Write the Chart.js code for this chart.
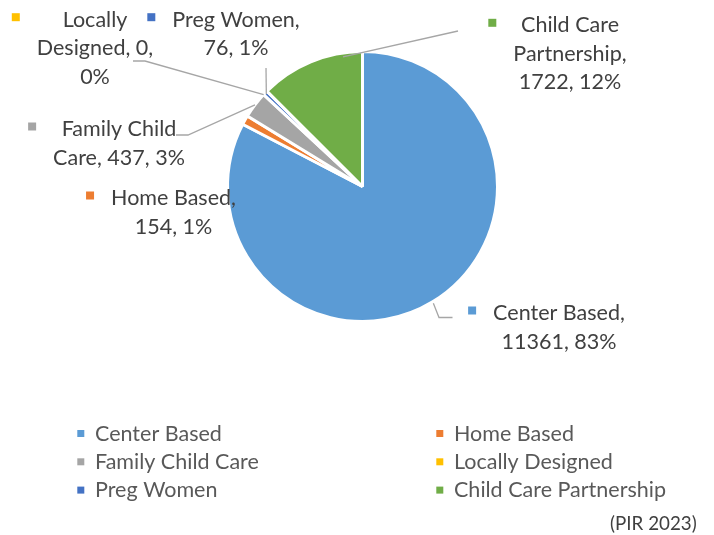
<!DOCTYPE html>
<html><head><meta charset="utf-8">
<script src="https://cdn.jsdelivr.net/npm/chart.js@4.4.1/dist/chart.umd.min.js"></script>
<style>html,body{margin:0;padding:0;background:#fff}canvas{display:block}</style>
</head>
<body>
<canvas id="c" width="714" height="535"></canvas>
<script>
// ---- data ----
const categories = ["Center Based", "Home Based", "Family Child Care", "Locally Designed", "Preg Women", "Child Care Partnership"];
const values = [11361, 154, 437, 0, 76, 1722];
const colors = ["#5B9BD5", "#ED7D31", "#A5A5A5", "#FFC000", "#4472C4", "#70AD47"];
const sourceNote = "(PIR 2023)";

// ---- label layout (positions only) ----
const labelLayout = [
  { cx: 559,   base: 320,  words: [2, 2],    leader: [[452.5, 317.5], [439, 317.5]], frac: 0.5,  dr: 1.5 },
  { cx: 173.5, base: 205,  words: [2, 2],    leader: null },
  { cx: 119,   base: 136,  words: [2, 3],    leader: [[176, 135], [188, 135]], frac: 0.5, dr: 0 },
  { cx: 95,    base: 26.7, words: [1, 2, 1], leader: [[133, 61], [145, 61]], frac: 0.5, dr: 0 },
  { cx: 236,   base: 26.7, words: [2, 2],    leader: [[266, 68]], frac: 0.5, dr: -1.5 },
  { cx: 570,   base: 32.3, words: [2, 1, 2], leader: [[458, 31]], frac: 0.81, dr: -4 }
];

const FONT = "Lato, 'Liberation Sans', sans-serif";
function fitSize(text, targetW) {
  const c = document.createElement('canvas').getContext('2d');
  c.font = "100px " + FONT;
  return 100 * targetW / c.measureText(text).width;
}
const mainSize = fitSize("Center Based", 127);
const noteSize = fitSize("(PIR 2023)", 86.7);

// percentages rounded to sum 100 (largest remainder)
function percents(vals) {
  const tot = vals.reduce((a, b) => a + b, 0);
  const raw = vals.map(v => v / tot * 100);
  const fl = raw.map(Math.floor);
  let rem = 100 - fl.reduce((a, b) => a + b, 0);
  const order = raw.map((r, i) => [r - Math.floor(r), i]).sort((a, b) => b[0] - a[0]);
  for (let k = 0; k < rem; k++) fl[order[k][1]]++;
  return fl;
}
const pcts = percents(values);

const labelsPlugin = {
  id: 'labelsPlugin',
  afterDatasetsDraw(chart) {
    const ctx = chart.ctx;
    const arcs = chart.getDatasetMeta(0).data;
    ctx.save();
    // leader lines
    ctx.strokeStyle = '#A6A6A6';
    ctx.lineWidth = 1.3;
    labelLayout.forEach((L, i) => {
      if (!L.leader) return;
      const p = arcs[i].getProps(['x', 'y', 'startAngle', 'endAngle', 'outerRadius'], true);
      const a = p.startAngle + L.frac * (p.endAngle - p.startAngle);
      const r = p.outerRadius + L.dr;
      ctx.beginPath();
      ctx.moveTo(L.leader[0][0], L.leader[0][1]);
      for (let k = 1; k < L.leader.length; k++) ctx.lineTo(L.leader[k][0], L.leader[k][1]);
      ctx.lineTo(p.x + r * Math.cos(a), p.y + r * Math.sin(a));
      ctx.stroke();
    });
    // label texts
    ctx.font = mainSize.toFixed(2) + "px " + FONT;
    ctx.textBaseline = 'alphabetic';
    ctx.textAlign = 'center';
    labelLayout.forEach((L, i) => {
      const tokens = (categories[i] + ", " + values[i] + ", " + pcts[i] + "%").split(" ");
      const lines = [];
      let t = 0;
      L.words.forEach(n => { lines.push(tokens.slice(t, t + n).join(" ")); t += n; });
      const maxW = Math.max(...lines.map(s => ctx.measureText(s).width));
      ctx.fillStyle = '#404040';
      lines.forEach((s, k) => ctx.fillText(s, L.cx, L.base + k * 28.5));
      const left = L.cx - maxW / 2;
      ctx.fillStyle = colors[i];
      ctx.fillRect(left - 17 - 8, L.base - 9.5 - 4, 8, 8);
    });
    // legend
    ctx.textAlign = 'left';
    categories.forEach((name, i) => {
      const col = i % 2, row = Math.floor(i / 2);
      const tx = col === 0 ? 95 : 454;
      const by = 440.7 + row * 28.3;
      ctx.fillStyle = colors[i];
      ctx.fillRect(tx - 17.7, by - 10.7, 7, 7);
      ctx.fillStyle = '#595959';
      ctx.fillText(name, tx, by);
    });
    // source note
    ctx.font = noteSize.toFixed(2) + "px " + FONT;
    ctx.textAlign = 'right';
    ctx.fillStyle = '#404040';
    ctx.fillText(sourceNote, 696.7, 530);
    ctx.restore();
  }
};

new Chart(document.getElementById('c'), {
  type: 'pie',
  data: {
    labels: categories,
    datasets: [{
      data: values,
      backgroundColor: colors,
      borderColor: '#FFFFFF',
      borderWidth: 3,
      hoverOffset: 0,
      radius: 135
    }]
  },
  options: {
    responsive: false,
    animation: false,
    layout: { padding: { left: 227.5, right: 216.5, top: 51.5, bottom: 213.5 } },
    plugins: { legend: { display: false }, tooltip: { enabled: false } }
  },
  plugins: [labelsPlugin]
});
</script>
</body></html>
